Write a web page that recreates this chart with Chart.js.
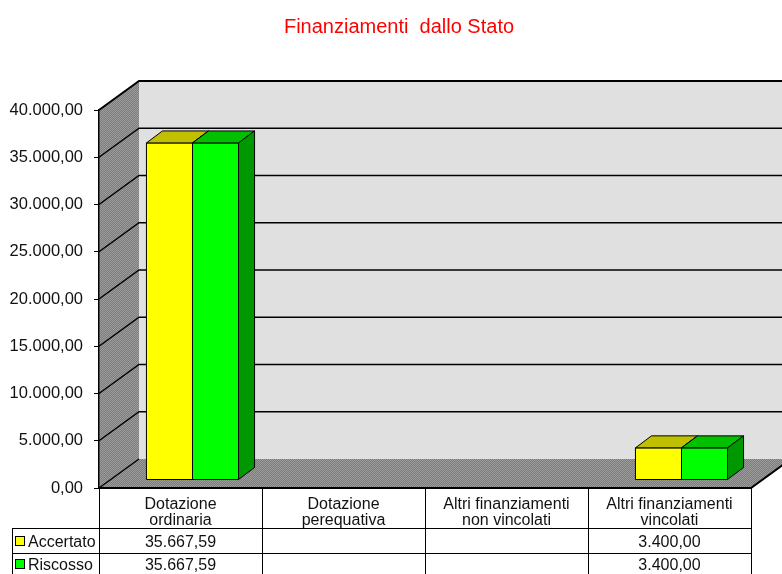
<!DOCTYPE html>
<html>
<head>
<meta charset="utf-8">
<script src="https://cdn.jsdelivr.net/npm/chart.js@4/dist/chart.umd.min.js"></script>
<style>
  body { margin: 0; background: #fff; }
  canvas { display: block; }
</style>
</head>
<body>
<canvas id="chart" width="782" height="574"></canvas>
<script>
// data
const categories = [
    ['Dotazione', 'ordinaria'],
    ['Dotazione', 'perequativa'],
    ['Altri finanziamenti', 'non vincolati'],
    ['Altri finanziamenti', 'vincolati']
];
const accertato = [35667.59, null, null, 3400.00];
const riscosso = [35667.59, null, null, 3400.00];
const seriesNames = ['Accertato', 'Riscosso'];
const yMin = 0;
const yMax = 40000;
const yStep = 5000;
const chartTitle = 'Finanziamenti  dallo Stato';

const FONT = '"Liberation Sans", Arial, sans-serif';
const DEPTH_X = 40, DEPTH_Y = -29;   // wall depth
const BAR_OFF_X = 12, BAR_OFF_Y = -8; // bar front face inside the depth
const BAR_DX = 16, BAR_DY = -12;      // bar thickness

const faceColors = ['#ffff00', '#00ff00'];
const topColors = ['#c0c000', '#00c000'];
const sideColors = ['#a0a000', '#009800'];

function fmt(v) {
    const parts = v.toFixed(2).split('.');
    const intPart = parts[0].replace(/\B(?=(\d{3})+(?!\d))/g, '.');
    return intPart + ',' + parts[1];
}

function ditherPattern(ctx, c1, c2) {
    const off = document.createElement('canvas');
    off.width = 2; off.height = 2;
    const o = off.getContext('2d');
    o.fillStyle = c1; o.fillRect(0, 0, 2, 2);
    o.fillStyle = c2; o.fillRect(0, 0, 1, 1); o.fillRect(1, 1, 1, 1);
    return ctx.createPattern(off, 'repeat');
}

function poly(ctx, pts, fill) {
    ctx.beginPath();
    ctx.moveTo(pts[0][0], pts[0][1]);
    for (let i = 1; i < pts.length; i++) ctx.lineTo(pts[i][0], pts[i][1]);
    ctx.closePath();
    ctx.fillStyle = fill;
    ctx.fill();
    ctx.strokeStyle = '#000';
    ctx.lineWidth = 1;
    ctx.stroke();
}

const walls3d = {
    id: 'walls3d',
    beforeDraw(chart) {
        const ctx = chart.ctx;
        const a = chart.chartArea;
        const y = chart.scales.y;
        const gray = ditherPattern(ctx, '#7c7c7c', '#9c9c9c');
        const farRight = a.right + DEPTH_X;
        ctx.save();
        // back wall
        ctx.fillStyle = '#e0e0e0';
        ctx.fillRect(a.left + DEPTH_X, a.top + DEPTH_Y, farRight - a.left - DEPTH_X, a.bottom - a.top);
        // side wall
        ctx.fillStyle = gray;
        ctx.beginPath();
        ctx.moveTo(a.left, a.top);
        ctx.lineTo(a.left + DEPTH_X, a.top + DEPTH_Y);
        ctx.lineTo(a.left + DEPTH_X, a.bottom + DEPTH_Y);
        ctx.lineTo(a.left, a.bottom);
        ctx.closePath();
        ctx.fill();
        // floor
        ctx.beginPath();
        ctx.moveTo(a.left, a.bottom);
        ctx.lineTo(a.left + DEPTH_X, a.bottom + DEPTH_Y);
        ctx.lineTo(farRight, a.bottom + DEPTH_Y);
        ctx.lineTo(a.right, a.bottom);
        ctx.closePath();
        ctx.fill();
        // gridlines on side and back wall
        ctx.strokeStyle = '#000';
        for (let v = yMin; v <= yMax; v += yStep) {
            const py = y.getPixelForValue(v);
            ctx.lineWidth = v === yMax ? 2 : 1.5;
            ctx.beginPath();
            ctx.moveTo(a.left, py);
            ctx.lineTo(a.left + DEPTH_X, py + DEPTH_Y);
            if (v !== yMin) ctx.lineTo(farRight, py + DEPTH_Y);
            ctx.stroke();
        }
        // front edge of the floor
        ctx.lineWidth = 2;
        ctx.beginPath();
        ctx.moveTo(a.left, a.bottom);
        ctx.lineTo(a.right, a.bottom);
        ctx.lineTo(farRight, a.bottom + DEPTH_Y);
        ctx.stroke();
        ctx.restore();
    },
    beforeDatasetsDraw(chart) {
        const ctx = chart.ctx;
        ctx.save();
        chart.data.datasets.forEach((ds, di) => {
            const meta = chart.getDatasetMeta(di);
            meta.data.forEach((bar, i) => {
                if (ds.data[i] == null) return;
                const x1 = bar.x - bar.width / 2 + BAR_OFF_X;
                const x2 = bar.x + bar.width / 2 + BAR_OFF_X;
                const top = bar.y + BAR_OFF_Y;
                const bottom = bar.base + BAR_OFF_Y;
                poly(ctx, [[x1, top], [x2, top], [x2, bottom], [x1, bottom]], faceColors[di]);
                poly(ctx, [[x1, top], [x1 + BAR_DX, top + BAR_DY], [x2 + BAR_DX, top + BAR_DY], [x2, top]], topColors[di]);
                poly(ctx, [[x2, top], [x2 + BAR_DX, top + BAR_DY], [x2 + BAR_DX, bottom + BAR_DY], [x2, bottom]], sideColors[di]);
            });
        });
        ctx.restore();
        return false;
    },
    afterDraw(chart) {
        const ctx = chart.ctx;
        const a = chart.chartArea;
        const colW = (a.right - a.left) / categories.length;
        const row1 = 528, row2 = 553, tableLeft = 12, tableBottom = 574;
        ctx.save();
        // title
        ctx.fillStyle = '#ff0000';
        ctx.font = '20px ' + FONT;
        ctx.textAlign = 'center';
        ctx.textBaseline = 'alphabetic';
        ctx.fillText(chartTitle, 399, 33);
        // data table grid
        ctx.strokeStyle = '#000';
        ctx.lineWidth = 1;
        ctx.beginPath();
        for (let i = 0; i <= categories.length; i++) {
            const x = Math.round(a.left + i * colW) + 0.5;
            ctx.moveTo(x, a.bottom);
            ctx.lineTo(x, tableBottom);
        }
        ctx.moveTo(tableLeft + 0.5, row1);
        ctx.lineTo(tableLeft + 0.5, tableBottom);
        ctx.moveTo(tableLeft, row1 + 0.5);
        ctx.lineTo(a.right + 1, row1 + 0.5);
        ctx.moveTo(tableLeft, row2 + 0.5);
        ctx.lineTo(a.right + 1, row2 + 0.5);
        ctx.stroke();
        // header labels
        ctx.fillStyle = '#111';
        ctx.font = '16px ' + FONT;
        categories.forEach((lines, i) => {
            const cx = a.left + (i + 0.5) * colW;
            lines.forEach((t, li) => ctx.fillText(t, cx, 509 + li * 16));
        });
        // value rows
        const rows = [accertato, riscosso];
        rows.forEach((vals, r) => {
            const base = r === 0 ? 547 : 570;
            vals.forEach((v, i) => {
                if (v == null) return;
                ctx.textAlign = 'center';
                ctx.fillText(fmt(v), a.left + (i + 0.5) * colW, base);
            });
            // legend key
            ctx.fillStyle = faceColors[r];
            ctx.fillRect(15.5, base - 10.5, 9, 9);
            ctx.strokeRect(15.5, base - 10.5, 9, 9);
            ctx.fillStyle = '#111';
            ctx.textAlign = 'left';
            ctx.fillText(seriesNames[r], 28, base);
        });
        ctx.restore();
    }
};

new Chart(document.getElementById('chart'), {
    type: 'bar',
    data: {
        labels: categories.map(c => c.join(' ')),
        datasets: [
            { label: seriesNames[0], data: accertato, backgroundColor: faceColors[0] },
            { label: seriesNames[1], data: riscosso, backgroundColor: faceColors[1] }
        ]
    },
    options: {
        responsive: false,
        animation: false,
        devicePixelRatio: 1,
        categoryPercentage: 0.565,
        barPercentage: 1,
        layout: { padding: { top: 110, bottom: 86, right: 31, left: 0 } },
        plugins: { legend: { display: false }, title: { display: false }, tooltip: { enabled: false } },
        scales: {
            x: { display: false },
            y: {
                min: yMin,
                max: yMax,
                afterFit: (axis) => { axis.width = 99; },
                ticks: {
                    stepSize: yStep,
                    color: '#111',
                    padding: 11,
                    font: { family: FONT, size: 16.5 },
                    callback: (v) => fmt(v)
                },
                grid: { drawOnChartArea: false, color: '#000', tickLength: 5, lineWidth: 1 },
                border: { display: true, color: '#000', width: 1.5 }
            }
        }
    },
    plugins: [walls3d]
});
</script>
</body>
</html>
